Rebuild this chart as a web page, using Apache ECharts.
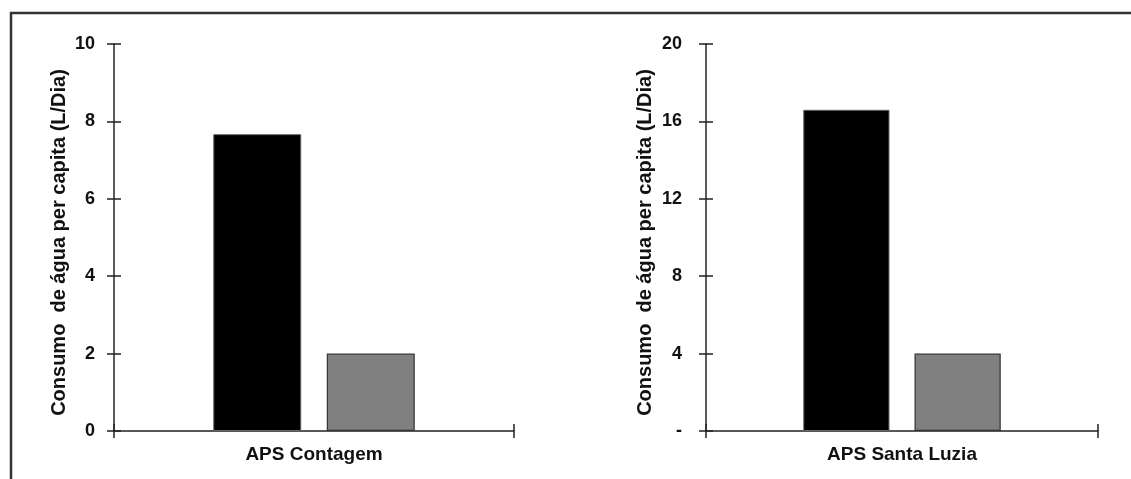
<!DOCTYPE html>
<html>
<head>
<meta charset="utf-8">
<script src="https://cdn.jsdelivr.net/npm/echarts@6/dist/echarts.min.js"></script>
<style>
html,body{margin:0;padding:0;background:#fff;}
#c{width:1131px;height:479px;}
</style>
</head>
<body>
<div id="c"></div>
<script>
// ---- data ----
const categoriesLeft = ['APS Contagem'];
const categoriesRight = ['APS Santa Luzia'];
const leftSeriesA = [7.67];
const leftSeriesB = [2.0];
const rightSeriesA = [16.6];
const rightSeriesB = [4.0];
const leftTicks = {min: 0, max: 10, interval: 2};
const rightTicks = {min: 0, max: 20, interval: 4};
const yTitle = 'Consumo  de água per capita (L/Dia)';

const FONT = 'Liberation Sans, Arial, sans-serif';
const AX = '#222';

function yAxes(grid, t, gap, nameGap, fmt) {
  const base = {
    type: 'value', gridIndex: grid, position: 'left', offset: 0,
    min: t.min, max: t.max, interval: t.interval,
    splitLine: {show: false}
  };
  return [
    Object.assign({}, base, {
      name: yTitle, nameLocation: 'middle', nameGap: nameGap, nameRotate: 90,
      nameTextStyle: {fontFamily: FONT, fontWeight: 'bold', fontSize: 20, color: '#111', padding: [0, 10, 0, 0]},
      axisLine: {show: true, lineStyle: {color: AX, width: 1.5}},
      axisTick: {show: true, inside: false, length: 7, lineStyle: {color: AX, width: 1.5}},
      axisLabel: {show: true, margin: gap, fontFamily: FONT, fontWeight: 'bold', fontSize: 18, color: '#111', formatter: fmt}
    }),
    Object.assign({}, base, {
      axisLine: {show: false},
      axisTick: {show: true, inside: true, length: 7, lineStyle: {color: AX, width: 1.5}},
      axisLabel: {show: false}
    })
  ];
}
function xAxes(grid, cats) {
  return [
    {type: 'category', gridIndex: grid, position: 'bottom', offset: 0, data: cats,
     axisLine: {show: true, lineStyle: {color: AX, width: 1.5}},
     axisTick: {show: true, inside: false, length: 7, lineStyle: {color: AX, width: 1.5}},
     axisLabel: {margin: 14, fontFamily: FONT, fontWeight: 'bold', fontSize: 19, color: '#111'}},
    {type: 'category', gridIndex: grid, position: 'bottom', offset: 0, data: cats,
     axisLine: {show: false},
     axisTick: {show: true, inside: true, length: 7, lineStyle: {color: AX, width: 1.5}},
     axisLabel: {show: false}}
  ];
}

const chart = echarts.init(document.getElementById('c'), null, {renderer: 'canvas'});
const blackStyle = {color: '#000', borderColor: '#666', borderWidth: 1};
const grayStyle = {color: '#808080', borderColor: '#333', borderWidth: 1.2};

chart.setOption({
  animation: false,
  backgroundColor: '#fff',
  grid: [
    {left: 114, top: 44, width: 400, height: 387},
    {left: 706, top: 44, width: 392, height: 387}
  ],
  xAxis: [].concat(xAxes(0, categoriesLeft), xAxes(1, categoriesRight)),
  yAxis: [].concat(
    yAxes(0, leftTicks, 19, 45, v => String(v)),
    yAxes(1, rightTicks, 24, 51, v => v === 0 ? '-' : String(v))
  ),
  series: [
    {type: 'bar', xAxisIndex: 0, yAxisIndex: 0, data: leftSeriesA, barWidth: '22%', barGap: '29%', itemStyle: blackStyle},
    {type: 'bar', xAxisIndex: 0, yAxisIndex: 0, data: leftSeriesB, barWidth: '22%', barGap: '29%', itemStyle: grayStyle},
    {type: 'bar', xAxisIndex: 2, yAxisIndex: 2, data: rightSeriesA, barWidth: '22%', barGap: '29%', itemStyle: blackStyle},
    {type: 'bar', xAxisIndex: 2, yAxisIndex: 2, data: rightSeriesB, barWidth: '22%', barGap: '29%', itemStyle: grayStyle}
  ],
  graphic: [
    {type: 'polyline', silent: true,
     shape: {points: [[11, 490], [11, 13], [1140, 13]]},
     style: {stroke: '#333', lineWidth: 2.5, fill: null}}
  ]
});
</script>
</body>
</html>
